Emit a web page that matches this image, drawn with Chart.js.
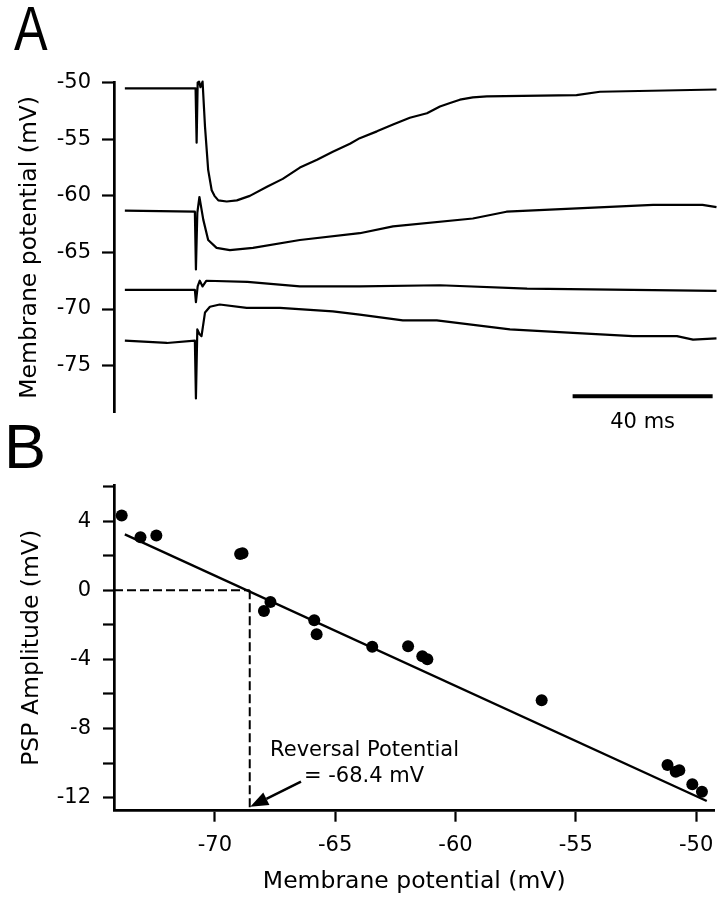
<!DOCTYPE html>
<html>
<head>
<meta charset="utf-8">
<script src="https://cdn.jsdelivr.net/npm/chart.js@4.4.1/dist/chart.umd.min.js"></script>
<style>
  body { margin: 0; background: #fff; }
  #wrap { position: relative; width: 725px; height: 899px; overflow: hidden; background: #fff; }
  canvas { position: absolute; left: 0; }
  .panel { position: absolute; font-family: "Liberation Sans", Arial, sans-serif; font-size: 63px; line-height: 1; color: #000; transform-origin: left top; }
</style>
</head>
<body>
<div id="wrap">
  <canvas id="traces" width="725" height="440" style="top:0"></canvas>
  <canvas id="iv" width="725" height="459" style="top:440px"></canvas>
  <div class="panel" style="left:14px; top:-3px; transform:scaleX(0.8)">A</div>
  <div class="panel" style="left:4px; top:415px">B</div>
</div>
<script>
// panel A: membrane potential traces, [time (ms), Vm (mV)]
const traceTop = [[0,-50.5],[20.2,-50.5],[20.5,-55.3],[20.8,-50.0],[21.2,-49.9],[21.6,-50.4],[22.2,-49.9],
  [22.9,-53.9],[23.8,-57.7],[24.8,-59.5],[25.6,-60.0],[26.7,-60.4],[29.1,-60.5],[32,-60.4],[35.7,-60.0],
  [40.6,-59.2],[45.1,-58.5],[50,-57.5],[54.9,-56.8],[59.4,-56.1],[64.3,-55.4],[67.1,-54.9],[72,-54.3],
  [76.6,-53.7],[81.4,-53.1],[86.3,-52.7],[90,-52.1],[92.9,-51.8],[95.7,-51.5],[99.4,-51.3],[103.4,-51.2],
  [129,-51.1],[135.7,-50.8],[169,-50.6]];
const traceMid = [[0,-61.3],[20.0,-61.4],[20.3,-66.5],[20.7,-61.5],[21.3,-60.1],[22.4,-62.1],[23.8,-63.9],
  [26.2,-64.6],[30,-64.8],[36.6,-64.6],[50,-63.9],[67.1,-63.3],[76.6,-62.7],[99.4,-62.0],[109,-61.4],
  [150.9,-60.8],[165,-60.8],[169,-61.0]];
const traceFlat = [[0,-68.3],[20.0,-68.3],[20.3,-69.4],[20.8,-68.0],[21.4,-67.5],[22.2,-68.0],[23.3,-67.5],
  [35,-67.6],[50,-68.0],[67.1,-68.0],[90,-67.9],[114.9,-68.2],[169,-68.4]];
const traceLow = [[0,-72.8],[12,-73.0],[20.0,-72.8],[20.3,-77.9],[20.7,-71.8],[21.3,-72.2],[21.9,-72.4],
  [22.9,-70.3],[24.3,-69.8],[27.1,-69.6],[34.8,-69.9],[44.3,-69.9],[59.4,-70.2],[67.1,-70.5],[79.4,-71.0],
  [89.1,-71.0],[110,-71.8],[128,-72.1],[145.1,-72.4],[157.7,-72.4],[162.3,-72.7],[169,-72.6]];
const yTicksA = [-50, -55, -60, -65, -70, -75];
const scaleBarStart = 127.9, scaleBarMs = 40, scaleBarVm = -77.7;

// panel B: PSP amplitude vs holding potential
const memPot = [-73.87,-73.09,-72.43,-68.95,-68.85,-67.69,-67.96,-65.87,-65.77,-63.46,-61.97,-61.38,-61.17,
  -56.42,-51.19,-50.85,-50.7,-50.16,-49.76];
const pspAmp = [4.34,3.08,3.18,2.1,2.15,-0.68,-1.19,-1.73,-2.54,-3.27,-3.24,-3.82,-3.99,
  -6.36,-10.12,-10.5,-10.42,-11.23,-11.66];
const fitX = [-73.74, -49.56];
const fitY = [3.24, -12.2];
const reversal = -68.55;
const xTicksB = [-70, -65, -60, -55, -50];
const yTicksB = [6, 4, 2, 0, -2, -4, -6, -8, -10, -12];
const yLabelsB = [4, 0, -4, -8, -12];
const noteLines = ['Reversal Potential', '= -68.4 mV'];

const black = '#000';
Chart.defaults.font.family = '"DejaVu Sans", sans-serif';
Chart.defaults.color = black;

const toXY = pts => pts.map(([x, y]) => ({ x, y }));
const axisStyle = (tickLen) => ({
  grid: { drawOnChartArea: false, drawTicks: true, tickLength: tickLen, tickWidth: 2.2, color: black, tickColor: black },
  border: { display: true, color: black, width: 2.7 },
});

const scaleBarLabel = {
  id: 'scaleBarLabel',
  afterDraw(chart) {
    const { ctx, scales: { x, y } } = chart;
    ctx.save();
    ctx.fillStyle = black;
    ctx.font = '21px "DejaVu Sans"';
    ctx.textAlign = 'center';
    ctx.textBaseline = 'middle';
    ctx.fillText(scaleBarMs + ' ms', x.getPixelForValue(scaleBarStart + scaleBarMs / 2), y.getPixelForValue(scaleBarVm) + 26);
    ctx.restore();
  }
};

new Chart(document.getElementById('traces'), {
  type: 'scatter',
  data: {
    datasets: [traceTop, traceMid, traceFlat, traceLow].map(tr => ({
      data: toXY(tr), showLine: true, borderColor: black, borderWidth: 2.2, pointRadius: 0, tension: 0,
      borderJoinStyle: 'round', clip: 4
    })).concat([{
      data: [{ x: scaleBarStart, y: scaleBarVm }, { x: scaleBarStart + scaleBarMs, y: scaleBarVm }],
      showLine: true, borderColor: black, borderWidth: 4, pointRadius: 0
    }])
  },
  options: {
    responsive: false, animation: false,
    layout: { padding: { top: 82.7, right: 5, bottom: 28, left: 0 } },
    plugins: { legend: { display: false }, tooltip: { enabled: false } },
    scales: {
      x: { type: 'linear', min: -3.1, max: 170, display: false },
      y: {
        min: -79.1, max: -50,
        afterFit: s => { s.width = 114; },
        afterBuildTicks: s => { s.ticks = yTicksA.map(v => ({ value: v })); },
        ...axisStyle(12),
        ticks: { padding: 11, autoSkip: false, font: { size: 21 }, color: black, callback: v => String(v) },
        title: { display: true, text: 'Membrane potential (mV)', font: { size: 23.5 }, color: black, padding: { top: 16, bottom: 0 } }
      }
    }
  },
  plugins: [scaleBarLabel]
});

const reversalNote = {
  id: 'reversalNote',
  afterDatasetsDraw(chart) {
    const { ctx, scales: { x, y } } = chart;
    ctx.save();
    ctx.fillStyle = black;
    ctx.strokeStyle = black;
    ctx.font = '21px "DejaVu Sans"';
    ctx.textAlign = 'center';
    ctx.textBaseline = 'middle';
    ctx.fillText(noteLines[0], x.getPixelForValue(-63.78), y.getPixelForValue(-9.25));
    ctx.fillText(noteLines[1], x.getPixelForValue(-63.8), y.getPixelForValue(-10.81));
    // arrow pointing at the reversal potential
    const x1 = x.getPixelForValue(-66.42), y1 = y.getPixelForValue(-11.08);
    const x2 = x.getPixelForValue(-68.53), y2 = y.getPixelForValue(-12.53);
    const ang = Math.atan2(y2 - y1, x2 - x1);
    const head = 18, half = 7;
    const bx = x2 - head * Math.cos(ang), by = y2 - head * Math.sin(ang);
    ctx.lineWidth = 2.5;
    ctx.beginPath();
    ctx.moveTo(x1, y1);
    ctx.lineTo(bx, by);
    ctx.stroke();
    ctx.beginPath();
    ctx.moveTo(x2, y2);
    ctx.lineTo(bx + half * Math.sin(ang), by - half * Math.cos(ang));
    ctx.lineTo(bx - half * Math.sin(ang), by + half * Math.cos(ang));
    ctx.closePath();
    ctx.fill();
    ctx.restore();
  }
};

const xMinB = -74.19, yMinB = -12.76;
new Chart(document.getElementById('iv'), {
  type: 'scatter',
  data: {
    datasets: [
      { data: memPot.map((x, i) => ({ x, y: pspAmp[i] })), pointRadius: 6, backgroundColor: black, borderWidth: 0 },
      { data: fitX.map((x, i) => ({ x, y: fitY[i] })), showLine: true, borderColor: black, borderWidth: 2.4, pointRadius: 0 },
      { data: [{ x: xMinB, y: 0 }, { x: reversal, y: 0 }], showLine: true, borderColor: black, borderWidth: 2, borderDash: [9, 4], pointRadius: 0 },
      { data: [{ x: reversal, y: 0 }, { x: reversal, y: yMinB }], showLine: true, borderColor: black, borderWidth: 2, borderDash: [9, 4], pointRadius: 0 }
    ]
  },
  options: {
    responsive: false, animation: false,
    layout: { padding: { top: 45, right: 3.3, bottom: 0, left: 0 } },
    plugins: { legend: { display: false }, tooltip: { enabled: false } },
    scales: {
      x: {
        type: 'linear', min: xMinB, max: -49.24,
        afterFit: s => { s.height = 88.3; },
        afterBuildTicks: s => { s.ticks = xTicksB.map(v => ({ value: v })); },
        ...axisStyle(11),
        ticks: { padding: 11.5, autoSkip: false, maxRotation: 0, font: { size: 21 }, color: black, callback: v => String(v) },
        title: { display: true, text: 'Membrane potential (mV)', font: { size: 23.5 }, color: black, padding: { top: 0, bottom: 3.5 } }
      },
      y: {
        min: yMinB, max: 6.1,
        afterFit: s => { s.width = 114; },
        afterBuildTicks: s => { s.ticks = yTicksB.map(v => ({ value: v })); },
        ...axisStyle(11),
        ticks: { padding: 12, autoSkip: false, font: { size: 21 }, color: black, callback: v => yLabelsB.includes(v) ? String(v) : '' },
        title: { display: true, text: 'PSP Amplitude (mV)', font: { size: 23.5 }, color: black, padding: { top: 17.6, bottom: 0 } }
      }
    }
  },
  plugins: [reversalNote]
});
</script>
</body>
</html>
